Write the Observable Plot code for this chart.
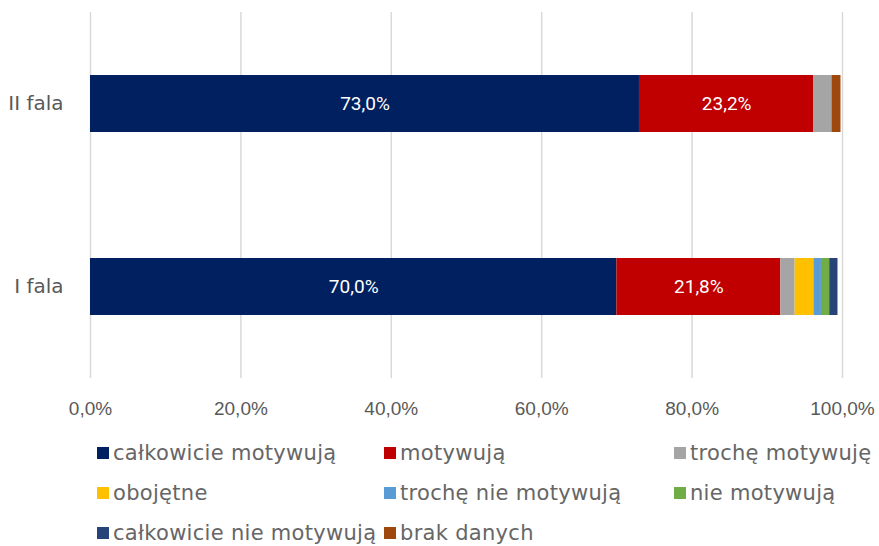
<!DOCTYPE html>
<html>
<head>
<meta charset="utf-8">
<script src="https://cdn.jsdelivr.net/npm/d3@7"></script>
<script src="https://cdn.jsdelivr.net/npm/@observablehq/plot@0.6"></script>
<style>
  html, body { margin: 0; padding: 0; background: #fff; overflow: hidden; }
  #chart { width: 879px; }
  .legend { display: grid; grid-template-columns: 287px 290px 200px; padding-left: 97px; padding-top: 8px; row-gap: 0; }
  .item { height: 40px; display: flex; align-items: center; font-family: "DejaVu Sans", sans-serif; font-size: 21px; letter-spacing: 0.3px; color: #666; white-space: nowrap; }
  .sw { width: 12px; height: 12px; margin-right: 4px; flex: none; }
</style>
</head>
<body>
<div id="chart"></div>
<script>
const categories = ["całkowicie motywują", "motywują", "trochę motywuję", "obojętne", "trochę nie motywują", "nie motywują", "całkowicie nie motywują", "brak danych"];
const colors = ["#002060", "#C00000", "#A5A5A5", "#FFC000", "#5B9BD5", "#70AD47", "#264478", "#9E480E"];
const waves = ["II fala", "I fala"];
const valuesII = [73.0, 23.2, 2.4, 0, 0, 0, 0, 1.2];
const valuesI = [70.0, 21.8, 1.9, 2.5, 1.0, 1.1, 1.1, 0];
const xTicks = [0, 20, 40, 60, 80, 100];

const data = [];
categories.forEach((c, i) => data.push({wave: "II fala", cat: c, value: valuesII[i]}));
categories.forEach((c, i) => data.push({wave: "I fala", cat: c, value: valuesI[i]}));

const fmt = d => d.toFixed(1).replace(".", ",") + "%";

const plot = Plot.plot({
  width: 879,
  height: 425,
  marginLeft: 90,
  marginRight: 37,
  marginTop: 12,
  marginBottom: 47,
  x: {domain: [0, 100], ticks: xTicks, tickFormat: fmt, label: null},
  y: {domain: waves, paddingInner: 0.69, paddingOuter: 0.345, label: null},
  color: {domain: categories, range: colors},
  marks: [
    Plot.gridX(xTicks, {stroke: "#d9d9d9", strokeOpacity: 1, strokeWidth: 1.5}),
    Plot.barX(data, Plot.stackX({x: "value", y: "wave", fill: "cat", order: categories})),
    Plot.text(data, Plot.stackX({x: "value", y: "wave", z: "cat", order: categories, text: d => fmt(d.value), filter: d => d.value > 10, fill: "white", fontSize: 19, fontFamily: "Roboto, sans-serif"})),
    Plot.axisX(xTicks, {tickSize: 0, tickPadding: 23, tickFormat: fmt, fontSize: 19, fontFamily: "'Liberation Sans', sans-serif", fill: "#595959", label: null}),
    Plot.axisY({tickSize: 0, tickPadding: 27, fontSize: 20, fontFamily: "'DejaVu Sans', sans-serif", fill: "#595959", label: null})
  ]
});
document.getElementById("chart").appendChild(plot);

const legend = document.createElement("div");
legend.className = "legend";
categories.forEach((c, i) => {
  const item = document.createElement("div");
  item.className = "item";
  const sw = document.createElement("span");
  sw.className = "sw";
  sw.style.background = colors[i];
  item.appendChild(sw);
  item.appendChild(document.createTextNode(c));
  legend.appendChild(item);
});
document.getElementById("chart").appendChild(legend);
</script>
</body>
</html>
